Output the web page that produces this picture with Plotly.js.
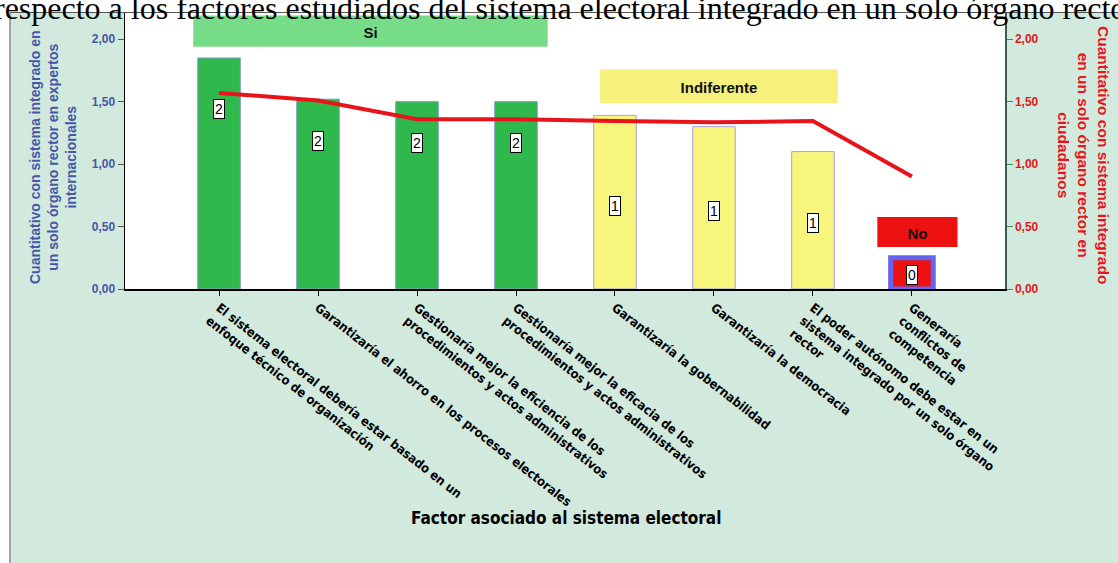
<!DOCTYPE html>
<html><head><meta charset="utf-8">
<script src="https://cdn.plot.ly/plotly-3.0.1.min.js"></script>
<style>html,body{margin:0;padding:0;background:#fff}#c{width:1118px;height:563px}</style>
</head><body><div id="c"></div><script>
const categories = [
  'El sistema electoral debería estar basado en un<br>enfoque técnico de organización',
  'Garantizaría el ahorro en los procesos electorales',
  'Gestionaría mejor la eficiencia de los<br>procedimientos y actos administrativos',
  'Gestionaría mejor la eficacia de los<br>procedimientos y actos administrativos',
  'Garantizaría la gobernabilidad',
  'Garantizaría la democracia',
  'El poder autónomo debe estar en un<br>sistema integrado por un solo órgano<br>rector',
  'Generaría<br>conflictos de<br>competencia'
];
const expertos = [1.85, 1.52, 1.50, 1.50, 1.39, 1.30, 1.10, 0.25];
const ciudadanos = [1.57, 1.51, 1.36, 1.36, 1.345, 1.335, 1.345, 0.90];
const grupos = ['Si','Si','Si','Si','Indiferente','Indiferente','Indiferente','No'];
const conteos = ['2','2','2','2','1','1','1','0'];
const yTicks = [0, 0.5, 1, 1.5, 2];

const fill = {Si:'#2fb84b', Indiferente:'#f8f57c', No:'#ee1111'};
const edge = {Si:'#7e9bd2', Indiferente:'#a3a3e0', No:'#6464ee'};
const edgeW = {Si:1, Indiferente:1, No:5};
const labelFrac = {Si:0.78, Indiferente:0.48, No:0.45};

const W = 880, H = 276, L = 125, T = 13;
const px = p => (p - L) / W;          // pixel x -> paper
const py = p => (T + H - p) / H;       // pixel y -> paper

const bars = {
  type:'bar', x:categories, y:expertos, width:0.43,
  marker:{color:grupos.map(g=>fill[g]), line:{color:grupos.map(g=>edge[g]), width:grupos.map(g=>edgeW[g])}},
  hoverinfo:'skip'
};
const line = {
  type:'scatter', mode:'lines', x:categories, y:ciudadanos, yaxis:'y2',
  line:{color:'#e8141c', width:4}, hoverinfo:'skip'
};

const annotations = categories.map((c,i)=>({
  x:i, y:expertos[i]*labelFrac[grupos[i]], xref:'x', yref:'y', text:conteos[i], showarrow:false,
  font:{family:'Liberation Sans, Arial', size:14, color:'#000'},
  bgcolor:'#fff', bordercolor:'#000', borderwidth:1, borderpad:1
}));
annotations.push({
  xref:'paper', yref:'paper', x:px(-8), y:py(-12.5), xanchor:'left', yanchor:'top',
  text:'respecto a los factores estudiados del sistema electoral integrado en un solo órgano rector',
  showarrow:false, font:{family:'Liberation Serif, Times New Roman', size:32, color:'#000'}
});
annotations.push({
  xref:'paper', yref:'paper', x:px(53), y:py(157), xanchor:'center', yanchor:'middle', textangle:-90, showarrow:false,
  text:'Cuantitativo con sistema integrado en<br>un solo órgano rector en expertos<br>internacionales',
  font:{family:'Liberation Sans, Arial', size:14, color:'#4656a8', weight:'bold'}
});
annotations.push({
  xref:'paper', yref:'paper', x:px(1084), y:py(155), xanchor:'center', yanchor:'middle', textangle:90, showarrow:false,
  text:'Cuantitativo con sistema integrado<br>en un solo órgano rector en<br>ciudadanos',
  font:{family:'Liberation Sans, Arial', size:15.5, color:'#e8141c', weight:'bold'}
});
annotations.push({
  xref:'paper', yref:'paper', x:px(566), y:py(518), xanchor:'center', yanchor:'middle', showarrow:false,
  text:'Factor asociado al sistema electoral',
  font:{family:'Liberation Sans Narrow, DejaVu Sans Condensed, Arial', size:17, color:'#000', weight:'bold'}
});

const banner = (x0,x1,y0,y1,color,text)=>({
  type:'rect', xref:'x', yref:'y', x0, x1, y0, y1, fillcolor:color, line:{width:0}, layer:'above',
  label:{text, font:{family:'Liberation Sans, Arial', size:15, color:'#111', weight:'bold'}, textposition:'middle center'}
});

const shapes = [
  banner(-0.26, 3.32, 1.94, 2.19, '#77dc88', 'Si'),
  banner(3.85, 6.25, 1.49, 1.76, '#f6f07c', 'Indiferente'),
  banner(6.65, 7.46, 0.336, 0.576, '#ee1111', 'No'),
  {type:'rect', xref:'paper', yref:'paper', x0:-0.2, x1:1.2, y0:py(12), y1:1.2, fillcolor:'#fff', line:{width:0}, layer:'below'},
  {type:'rect', xref:'paper', yref:'paper', x0:-0.2, x1:px(9.5), y0:-1, y1:1.2, fillcolor:'#fff', line:{width:0}, layer:'below'},
  {type:'line', xref:'paper', yref:'paper', x0:px(10), x1:px(10), y0:py(12.5), y1:-1, line:{color:'#8a8a8a', width:1.5}},
  {type:'line', xref:'paper', yref:'paper', x0:px(10), x1:1.2, y0:py(12.5), y1:py(12.5), line:{color:'#555', width:1.2}}
];

const layout = {
  width:1118, height:563,
  margin:{l:L, r:1118-L-W, t:T, b:563-T-H, pad:0},
  paper_bgcolor:'#d2eadd', plot_bgcolor:'#ffffff',
  showlegend:false, separators:',.',
  xaxis:{
    type:'category', range:[-0.95, 7.94], showline:true, linecolor:'#000', linewidth:1.5,
    ticks:'outside', ticklen:5, tickcolor:'#000', tickangle:38, automargin:false,
    tickfont:{family:'Liberation Sans Narrow, DejaVu Sans Condensed, Arial', size:12.7, color:'#000', weight:'bold'},
    showgrid:false, fixedrange:true
  },
  yaxis:{
    range:[0, 2.21], tickvals:yTicks, tickformat:'.2f', showline:true, linecolor:'#000', linewidth:1.5,
    ticks:'outside', ticklen:6, tickcolor:'#555', showgrid:false, zeroline:false, automargin:false,
    tickfont:{family:'Liberation Sans, Arial', size:12, color:'#4656a8', weight:'bold'}
  },
  yaxis2:{
    overlaying:'y', side:'right', range:[0, 2.21], tickvals:yTicks, tickformat:'.2f',
    showline:true, linecolor:'#3d5a4c', linewidth:1.5, ticks:'outside', ticklen:6, tickcolor:'#3f8a5f',
    showgrid:false, zeroline:false, automargin:false,
    tickfont:{family:'Liberation Sans, Arial', size:12, color:'#e01818', weight:'bold'}
  },
  annotations, shapes
};
Plotly.newPlot('c', [bars, line], layout, {staticPlot:true, displayModeBar:false});
</script></body></html>
